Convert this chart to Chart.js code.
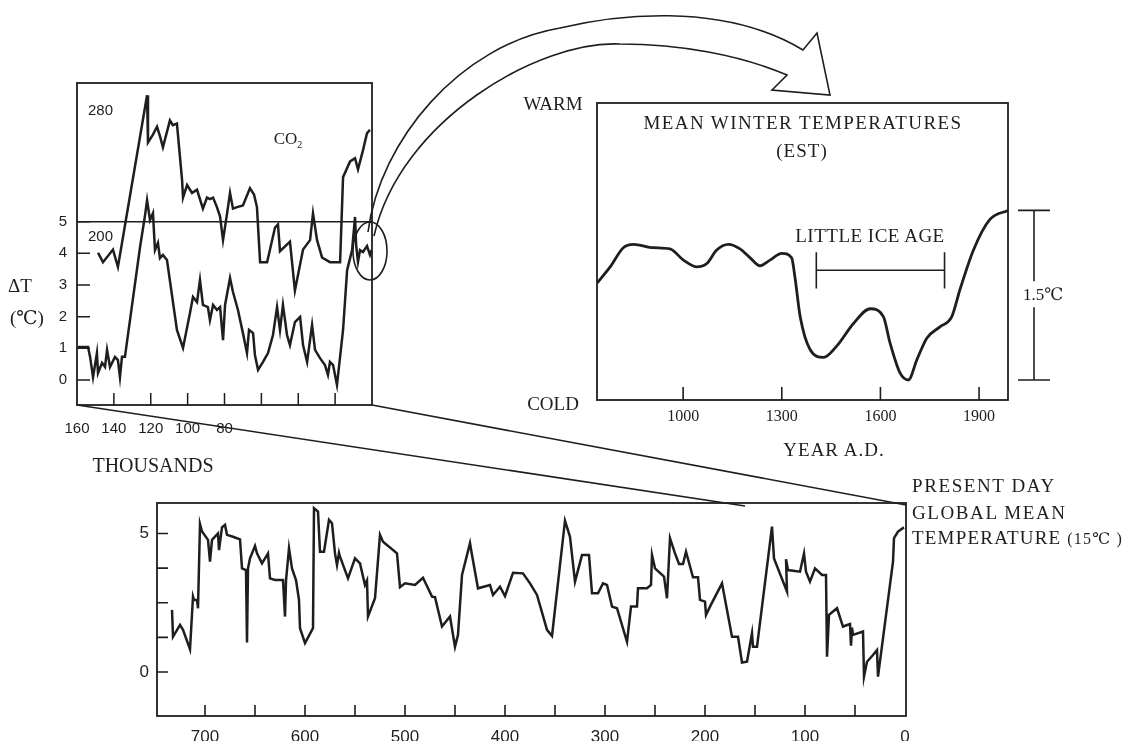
<!DOCTYPE html>
<html lang="en">
<head>
<meta charset="UTF-8">
<title>Temperature over three time scales</title>
<script src="https://cdn.jsdelivr.net/npm/chart.js"></script>
<style>
  body { margin: 0; background: #fff; }
  #fig { position: relative; width: 1144px; height: 745px; overflow: hidden; background: #fff; color: #1e1e1e;
         font-family: "Liberation Serif", "DejaVu Serif", serif; }
  #fig canvas, #fig svg { position: absolute; left: 0; top: 0; }
  .lbl { position: absolute; white-space: nowrap; transform: translate(-50%, -50%); font-size: 19px; line-height: 1; }
  .lft { transform: translate(0, -50%); }
</style>
</head>
<body>
<div id="fig">
  <canvas id="iceCore" width="1144" height="745"></canvas>
  <canvas id="winter" width="1144" height="745"></canvas>
  <canvas id="longRecord" width="1144" height="745"></canvas>

  <svg width="1144" height="745">
    <g fill="none" stroke="#1e1e1e" stroke-width="1.6">
      <line x1="77" y1="405" x2="745" y2="506"/>
      <line x1="372" y1="405" x2="906" y2="505"/>
      <ellipse cx="370" cy="251" rx="17" ry="29"/>
      <path d="M368,232 C380,140 460,45 560,28 C610,16 720,0 803,50 L817,33 L830,95 L772,90 L787,75
               C740,55 680,44 620,44 C540,40 400,120 374,236"/>
    </g>
  </svg>

  <div class="lbl" style="left:20px;top:285px;">ΔT</div>
  <div class="lbl" style="left:27px;top:317px;">(℃)</div>
  <div class="lbl" style="left:288px;top:140px;font-size:17px;">CO<sub style="font-size:10px;">2</sub></div>
  <div class="lbl" style="left:153px;top:465px;font-size:20px;">THOUSANDS</div>

  <div class="lbl" style="left:553px;top:103px;">WARM</div>
  <div class="lbl" style="left:553px;top:403px;">COLD</div>
  <div class="lbl" style="left:803px;top:122px;letter-spacing:1.4px;">MEAN WINTER TEMPERATURES</div>
  <div class="lbl" style="left:802px;top:150px;letter-spacing:1px;">(EST)</div>
  <div class="lbl" style="left:870px;top:235px;letter-spacing:0.5px;">LITTLE ICE AGE</div>
  <div class="lbl" style="left:834px;top:449px;letter-spacing:1px;">YEAR A.D.</div>

  <div class="lbl lft" style="left:912px;top:485px;letter-spacing:1.6px;">PRESENT DAY</div>
  <div class="lbl lft" style="left:912px;top:512px;letter-spacing:1.6px;">GLOBAL MEAN</div>
  <div class="lbl lft" style="left:912px;top:537px;letter-spacing:1.2px;">TEMPERATURE <span style="font-size:16px;">(15℃ )</span></div>
</div>

<script>
// ---- left panel: last 160 000 years (age in thousands of years) ----
const co2Age = [148.6,145.9,140.5,137.8,122.0,121.5,118.8,116.6,115.0,113.4,109.6,108.0,105.8,103.0,102.5,100.3,
                97.6,94.9,91.7,89.5,87.9,86.2,84.1,82.4,80.8,78.6,77.0,75.4,73.2,70.0,66.2,64.0,62.4,60.7,56.9,
                52.6,51.0,49.9,44.5,41.8,37.4,33.6,32.0,29.8,27.1,22.8,17.3,15.7,11.9,9.2,7.6,4.9,2.7,1.1];
const co2Ppm = [190,184,192,181,290,260,265,270,264,257,274,271,272,236,225,233,
                228,230,218,225,224,225,219,213,198,215,228,218,219,220,231,227,219,184,184,
                206,208,191,197,166,192,198,215,198,187,184,184,238,248,250,243,255,266,268];

const tAge = [159.5,154.0,152.9,151.3,149.2,148.6,146.4,144.8,143.7,142.1,139.4,137.8,136.7,135.6,134.0,
              128.5,125.8,123.1,122.0,120.4,118.8,117.7,116.1,115.0,113.4,111.2,105.8,102.5,98.7,97.1,
              94.9,93.3,91.7,89.0,87.9,86.2,84.1,82.4,80.8,79.7,77.0,75.4,72.7,70.0,67.8,66.7,64.5,63.5,
              61.8,59.1,56.4,53.7,51.5,49.9,48.3,46.1,44.5,41.8,39.0,37.4,35.2,32.5,30.9,28.2,25.5,23.9,
              22.8,21.1,19.0,15.7,13.5,10.8,9.2,8.6,7.6,6.5,4.9,2.7,1.1,0.2];
const tDelta = [1.04,1.04,0.73,0.09,0.85,0.22,0.54,0.41,0.95,0.41,0.73,0.63,0.09,0.73,0.73,
                3.06,4.2,5.2,5.68,5.05,5.27,4.1,4.33,3.85,3.95,3.79,1.58,1.01,2.12,2.62,
                2.46,3.16,2.37,2.3,1.89,2.37,2.21,2.3,1.26,2.37,3.22,2.78,2.21,1.48,0.85,1.58,1.48,0.79,
                0.32,0.57,0.85,1.42,2.3,1.58,2.37,1.42,1.1,1.83,1.99,1.1,0.57,1.74,0.95,0.69,0.47,0.16,
                0.57,0.47,-0.16,1.58,3.47,4.1,5.15,4.26,3.73,4.1,4.04,4.23,3.95,4.1];

const iceAgeTicks = [160, 140, 120, 100, 80, 60, 40, 20, 0];
const iceAgeLabels = [160, 140, 120, 100, 80];
const iceInnerTicks = [140, 120, 100, 80, 60, 40, 20];
const dtTicks = [0, 1, 2, 3, 4, 5];
const co2Marks = [280, 200];
const refDelta = 5;

// ---- right panel: mean winter temperatures (EST), degrees above the coldest point ----
const winterYear = [739,778,818,849,910,960,1001,1042,1072,1102,1138,1173,1204,1234,1264,1300,1330,1340,
                    1356,1386,1427,1467,1518,1569,1609,1629,1660,1685,1711,1741,1781,1817,1842,1883,1933,1988];
const winterTemp = [0.86,1.00,1.17,1.20,1.17,1.16,1.06,1.00,1.03,1.15,1.20,1.16,1.08,1.01,1.06,1.12,1.08,0.91,
                    0.56,0.27,0.20,0.30,0.50,0.63,0.56,0.33,0.06,0.0,0.18,0.37,0.47,0.56,0.80,1.15,1.42,1.50];
const yearTicks = [1000, 1300, 1600, 1900];
const iceAgeSpan = [1405, 1795];
const iceAgeLevel = 0.97;
const rangeBar = [0, 1.5];

// ---- bottom panel: last 750 000 years ----
const longAge = [733,732,725,722,715,712,711,708,707,705,703,697,695,693,687,686,683,680,678,672,665,663,659,658,
  657,655,650,648,643,637,635,630,622,620,619,616,613,609,606,605,600,592,591,587,585,581,576,573,570,568,566,565,
  557,550,545,540,538,537,530,525,522,508,505,500,490,482,473,470,463,455,450,447,443,435,433,427,415,412,405,400,
  392,382,375,368,358,353,340,335,330,323,316,313,307,302,298,293,288,278,274,268,267,258,254,253,250,241,238,235,
  230,226,222,219,212,207,205,200,199,195,183,173,167,163,158,153,152,148,133,131,118,119,117,105,101,99,95,90,83,
  79,78,76,68,62,55,54,53,52,42,41,38,32,28,27,12,11,7,1];
const longDelta = [2.24,1.27,1.70,1.52,0.82,2.72,2.6,2.6,2.3,5.34,5.07,4.77,3.98,4.77,5.0,4.4,5.22,5.31,4.95,4.88,4.79,3.74,3.68,1.06,
  3.74,4.1,4.55,4.28,3.92,4.28,3.38,3.32,3.32,2.0,3.3,4.47,3.74,3.32,2.6,1.58,1.04,1.58,5.91,5.79,4.34,4.34,5.49,5.37,4.28,3.86,4.3,4.16,
  3.38,4.1,3.92,3.14,3.3,2.0,2.66,4.95,4.7,4.28,3.06,3.2,3.14,3.4,2.72,2.7,1.64,2.0,0.91,1.34,3.5,4.65,4.22,3.02,3.14,2.78,3.08,2.74,
  3.58,3.56,3.2,2.78,1.52,1.30,5.46,4.88,3.26,4.22,4.22,2.84,2.84,3.2,3.14,2.36,2.3,1.09,2.36,2.36,3.02,3.02,3.14,4.22,3.74,3.44,2.66,4.83,
  4.28,3.9,3.9,4.34,3.42,3.42,2.6,2.54,2.06,2.36,3.2,1.27,1.27,0.34,0.37,1.40,0.91,0.91,5.25,4.1,2.9,4.07,3.68,3.62,4.28,3.62,3.26,3.74,3.5,
  3.5,0.55,2.06,2.3,1.64,1.73,0.95,1.6,1.34,1.46,-0.17,0.37,0.61,0.79,-0.17,3.98,4.83,5.07,5.22];
const longTicks = [700, 650, 600, 550, 500, 450, 400, 350, 300, 250, 200, 150, 100, 50, 0];
const longInnerTicks = [700, 650, 600, 550, 500, 450, 400, 350, 300, 250, 200, 150, 100, 50];
const longDtTicks = [0, 1.25, 2.5, 3.75, 5];
const longDtLabels = [0, 5];

const INK = '#1e1e1e';
const SANS = '"Liberation Sans", Arial, sans-serif';
const SERIF = '"Liberation Serif", "DejaVu Serif", serif';

function pts(xs, ys) { return xs.map((x, i) => ({ x: x, y: ys[i] })); }
function fixedWidth(w) { return s => { s.width = w; }; }
function fixedHeight(h) { return s => { s.height = h; }; }
function setTicks(vals) { return s => { s.ticks = vals.map(v => ({ value: v })); }; }

function frame(chart, lw) {
  const a = chart.chartArea, ctx = chart.ctx;
  ctx.lineWidth = lw;
  ctx.strokeRect(a.left, a.top, a.right - a.left, a.bottom - a.top);
}

// tick marks pointing into the plot, as in the printed figure
function inwardTicks(chart, id, vals, len) {
  const s = chart.scales[id], a = chart.chartArea, ctx = chart.ctx;
  ctx.beginPath();
  vals.forEach(v => {
    const p = s.getPixelForValue(v);
    if (s.isHorizontal()) { ctx.moveTo(p, a.bottom); ctx.lineTo(p, a.bottom - len); }
    else { ctx.moveTo(a.left, p); ctx.lineTo(a.left + len, p); }
  });
  ctx.stroke();
}

function lineSet(points, extra) {
  return Object.assign({ data: points, borderColor: INK, borderWidth: 2.5, pointRadius: 0,
                         tension: 0, borderJoinStyle: 'miter', fill: false }, extra || {});
}

const common = {
  responsive: false,
  animation: false,
  events: [],
  plugins: { legend: { display: false }, tooltip: { enabled: false } }
};
const hidden = { grid: { display: false, drawTicks: false }, border: { display: false } };

// left panel
new Chart(document.getElementById('iceCore'), {
  type: 'line',
  data: { datasets: [
    lineSet(pts(co2Age, co2Ppm), { label: 'CO2', yAxisID: 'y2' }),
    lineSet(pts(tAge, tDelta), { label: 'ΔT', yAxisID: 'y' })
  ] },
  options: Object.assign({}, common, {
    layout: { padding: { left: 0, top: 83, right: 772, bottom: 300 } },
    scales: {
      x: Object.assign({}, hidden, {
        type: 'linear', reverse: true, min: 0, max: 160,
        afterBuildTicks: setTicks(iceAgeTicks), afterFit: fixedHeight(40),
        ticks: { padding: 15, autoSkip: false, maxRotation: 0, color: INK, font: { family: SANS, size: 15 },
                 callback: v => iceAgeLabels.includes(v) ? String(v) : '' }
      }),
      y: Object.assign({}, hidden, {
        min: -0.79, max: 9.38,
        afterBuildTicks: setTicks(dtTicks), afterFit: fixedWidth(77),
        ticks: { padding: 10, color: INK, font: { family: SANS, size: 15 }, callback: v => String(v) }
      }),
      y2: { display: false, min: 93.3, max: 297.8 }
    }
  }),
  plugins: [{
    id: 'iceDeco',
    afterDatasetsDraw(chart) {
      const ctx = chart.ctx, a = chart.chartArea, s = chart.scales;
      ctx.save();
      ctx.strokeStyle = INK;
      frame(chart, 1.8);
      ctx.lineWidth = 1.5;
      const yRef = s.y.getPixelForValue(refDelta);
      ctx.beginPath(); ctx.moveTo(a.left, yRef); ctx.lineTo(a.right, yRef); ctx.stroke();
      inwardTicks(chart, 'y', dtTicks, 13);
      inwardTicks(chart, 'x', iceInnerTicks, 12);
      ctx.fillStyle = INK;
      ctx.font = '15px ' + SANS;
      ctx.textBaseline = 'middle';
      co2Marks.forEach(v => ctx.fillText(String(v), a.left + 11, s.y2.getPixelForValue(v)));
      ctx.restore();
    }
  }]
});

// right panel
new Chart(document.getElementById('winter'), {
  type: 'line',
  data: { datasets: [
    lineSet(pts(winterYear, winterTemp), { label: 'Mean winter temperature', cubicInterpolationMode: 'monotone', borderWidth: 2.8 })
  ] },
  options: Object.assign({}, common, {
    layout: { padding: { left: 597, top: 103, right: 136, bottom: 315 } },
    scales: {
      x: Object.assign({}, hidden, {
        type: 'linear', min: 738, max: 1988,
        afterBuildTicks: setTicks(yearTicks), afterFit: fixedHeight(30),
        ticks: { padding: 7, autoSkip: false, maxRotation: 0, color: INK, font: { family: SERIF, size: 16 },
                 callback: v => String(v) }
      }),
      y: { display: false, min: -0.177, max: 2.45 }
    }
  }),
  plugins: [{
    id: 'winterDeco',
    afterDatasetsDraw(chart) {
      const ctx = chart.ctx, a = chart.chartArea, s = chart.scales;
      ctx.save();
      ctx.strokeStyle = INK;
      frame(chart, 1.8);
      ctx.lineWidth = 1.6;
      inwardTicks(chart, 'x', yearTicks, 13);
      // little ice age span
      const yl = s.y.getPixelForValue(iceAgeLevel);
      const cap = s.y.getPixelForValue(iceAgeLevel - 0.16) - yl;
      const x1 = s.x.getPixelForValue(iceAgeSpan[0]), x2 = s.x.getPixelForValue(iceAgeSpan[1]);
      ctx.beginPath();
      ctx.moveTo(x1, yl); ctx.lineTo(x2, yl);
      ctx.moveTo(x1, yl - cap); ctx.lineTo(x1, yl + cap);
      ctx.moveTo(x2, yl - cap); ctx.lineTo(x2, yl + cap);
      ctx.stroke();
      // 1.5 degree range bar
      const xb = a.right + 26;
      const yt = s.y.getPixelForValue(rangeBar[1]), yb = s.y.getPixelForValue(rangeBar[0]);
      const ym = (yt + yb) / 2;
      ctx.beginPath();
      ctx.moveTo(xb, yt); ctx.lineTo(xb, ym - 14);
      ctx.moveTo(xb, ym + 12); ctx.lineTo(xb, yb);
      ctx.moveTo(xb - 16, yt); ctx.lineTo(xb + 16, yt);
      ctx.moveTo(xb - 16, yb); ctx.lineTo(xb + 16, yb);
      ctx.stroke();
      ctx.fillStyle = INK;
      ctx.font = '17px ' + SERIF;
      ctx.textBaseline = 'middle';
      ctx.fillText((rangeBar[1] - rangeBar[0]).toFixed(1) + '℃', xb - 11, ym);
      ctx.restore();
    }
  }]
});

// bottom panel
new Chart(document.getElementById('longRecord'), {
  type: 'line',
  data: { datasets: [
    lineSet(pts(longAge, longDelta), { label: 'ΔT' })
  ] },
  options: Object.assign({}, common, {
    layout: { padding: { left: 0, top: 503, right: 238, bottom: 4 } },
    scales: {
      x: Object.assign({}, hidden, {
        type: 'linear', reverse: true, min: -1, max: 748,
        afterBuildTicks: setTicks(longTicks), afterFit: fixedHeight(25),
        ticks: { padding: 11, autoSkip: false, maxRotation: 0, color: INK, font: { family: SANS, size: 17 },
                 callback: v => v % 100 === 0 ? String(v) : '' }
      }),
      y: Object.assign({}, hidden, {
        min: -1.59, max: 6.10,
        afterBuildTicks: setTicks(longDtTicks), afterFit: fixedWidth(157),
        ticks: { padding: 8, color: INK, font: { family: SANS, size: 17 },
                 callback: v => longDtLabels.includes(v) ? String(v) : '' }
      })
    }
  }),
  plugins: [{
    id: 'longDeco',
    afterDatasetsDraw(chart) {
      const ctx = chart.ctx;
      ctx.save();
      ctx.strokeStyle = INK;
      frame(chart, 1.8);
      ctx.lineWidth = 1.6;
      inwardTicks(chart, 'y', longDtTicks, 11);
      inwardTicks(chart, 'x', longInnerTicks, 11);
      ctx.restore();
    }
  }]
});
</script>
</body>
</html>
